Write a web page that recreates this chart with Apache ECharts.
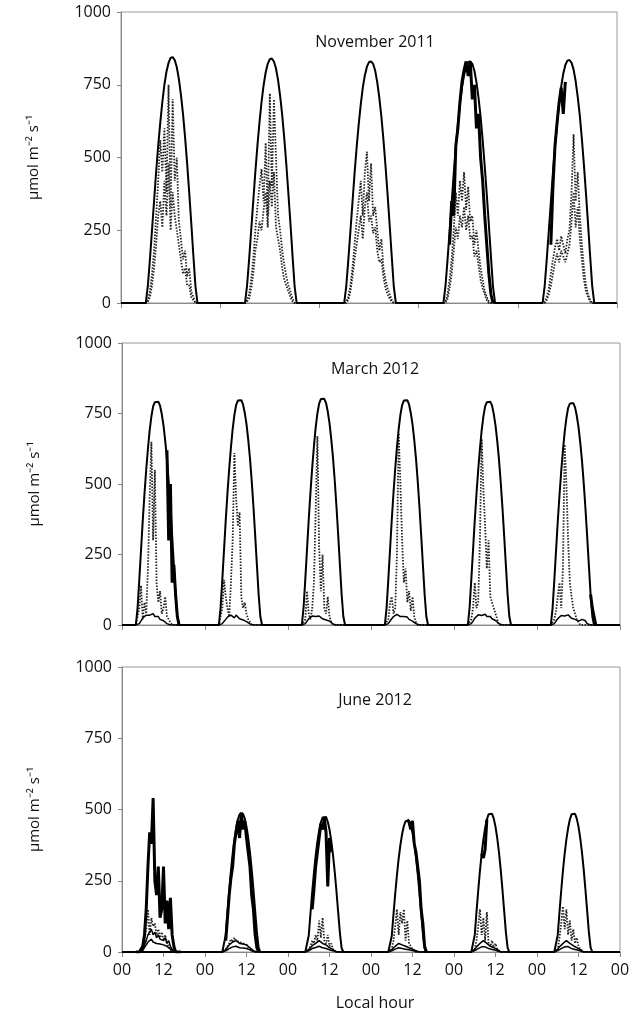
<!DOCTYPE html>
<html>
<head>
<meta charset="utf-8">
<title>PAR</title>
<script src="https://cdn.jsdelivr.net/npm/echarts@6/dist/echarts.min.js"></script>
</head>
<body style="margin:0;background:#fff">
<div id="main" style="width:639px;height:1019px;"></div>
<script type="text/javascript">
// half-hourly daytime values; night hours are zero
// November 2011: each day from 06:00, step 0.5 h
var novStart = 6;
var novClear = [
  [0,60,150,250,350,450,540,620,690,750,795,825,842,845,835,810,770,715,650,570,480,380,275,165,60,0],
  [0,60,150,250,350,450,540,620,690,748,792,822,838,840,830,806,766,712,646,566,476,376,272,162,58,0],
  [0,58,148,246,345,444,533,612,682,740,783,812,828,830,822,798,758,705,640,560,470,372,268,160,56,0],
  [0,58,148,246,345,444,533,612,682,740,783,812,828,830,822,798,758,705,640,560,470,372,268,160,56,0],
  [0,58,149,248,347,447,536,616,686,744,788,818,833,835,826,802,762,708,644,564,474,375,270,162,58,0]
];
var novThick = [
  null, null, null,
  [null,null,null,200,350,300,540,600,690,760,800,830,780,830,700,750,600,650,500,420,300,200,100,30,0,null],
  [null,null,null,null,200,400,540,620,690,740,650,760,null,null,null,null,null,null,null,null,null,null,null,null,null,null]
];
var novDot = [
  [0,10,40,100,180,300,420,560,450,600,380,750,330,700,420,500,280,220,150,180,90,120,40,20,0,0],
  [0,10,30,80,150,250,330,400,460,350,550,300,720,400,700,500,300,250,180,130,90,60,40,15,0,0],
  [0,5,20,60,120,200,280,350,420,300,450,520,350,480,300,330,250,180,220,120,80,50,30,10,0,0],
  [0,5,30,80,150,250,380,300,420,350,450,320,400,280,300,200,250,180,120,80,40,20,5,0,0,0],
  [0,5,20,50,100,150,190,220,180,230,200,170,220,250,380,580,350,450,300,200,120,60,30,10,0,0]
];
var novDot2 = [
  [0,5,20,60,120,200,300,350,260,420,300,480,250,380,300,250,200,150,100,120,60,60,20,10,0,0],
  [0,5,15,50,100,180,220,280,250,320,380,260,420,330,450,260,220,180,120,80,60,40,20,5,0,0],
  [0,0,10,40,90,150,200,250,300,220,330,380,280,300,240,260,180,140,150,90,50,30,15,5,0,0],
  [0,0,15,50,100,180,260,220,300,260,330,250,300,220,230,160,180,130,80,50,30,10,0,0,0,0],
  [0,0,10,30,60,100,140,170,140,180,160,140,170,200,280,380,260,330,220,150,80,40,20,5,0,0]
];

// March 2012: each day from 04:00, step 0.5 h
var marStart = 4;
var marClear = [
  [0,60,160,265,370,465,550,625,690,740,775,790,795,792,778,748,708,653,588,508,418,318,213,108,30,0,0],
  [0,60,160,266,372,468,554,630,695,745,780,796,800,797,782,752,712,657,592,512,421,320,215,110,30,0,0],
  [0,61,162,268,375,471,558,634,700,750,785,801,805,802,787,757,716,660,595,515,423,322,216,110,30,0,0],
  [0,60,160,266,372,468,554,630,695,745,780,796,800,797,782,752,712,657,592,512,421,320,215,110,30,0,0],
  [0,60,160,265,370,465,550,625,690,740,775,790,795,792,778,748,708,653,588,508,418,318,213,108,30,0,0],
  [0,59,158,262,366,460,545,620,684,734,770,785,790,787,772,742,702,648,584,505,415,316,212,108,30,0,0]
];
var marThick = [
  [null,null,null,null,null,null,null,null,null,null,null,null,null,null,null,null,null,null,620,300,500,150,213,108,30,0,null],
  null, null, null, null,
  [null,null,null,null,null,null,null,null,null,null,null,null,null,null,null,null,null,null,null,null,null,null,null,108,60,60,0]
];
var marLow = [
  [0,0,5,15,25,30,35,40,35,30,40,30,25,30,20,25,15,10,5,0,0,0,0,0,0,0,0],
  [0,0,5,12,20,28,30,35,30,25,35,28,22,25,18,20,12,8,4,0,0,0,0,0,0,0,0],
  [0,0,5,12,22,28,32,35,30,28,32,26,22,26,18,22,14,8,4,0,0,0,0,0,0,0,0],
  [0,0,5,14,22,30,34,38,32,30,36,30,24,28,20,24,14,10,5,0,0,0,0,0,0,0,0],
  [0,0,5,14,24,30,36,40,34,30,38,30,26,30,22,24,16,10,5,0,0,0,0,0,0,0,0],
  [0,0,5,14,22,28,34,38,32,30,36,30,24,28,20,22,14,10,20,25,15,5,0,0,0,0,0]
];
var marDot = [
  [0,0,60,140,20,80,40,200,450,650,300,550,150,80,120,40,60,100,30,20,10,0,0,0,0,0,0],
  [0,0,60,160,100,60,30,150,300,610,450,350,400,100,60,80,40,20,10,0,0,0,0,0,0,0,0],
  [0,0,20,120,40,20,60,150,400,670,280,120,250,60,40,100,30,10,0,0,0,0,0,0,0,0,0],
  [0,0,20,80,100,40,60,250,680,500,300,150,200,80,120,50,100,30,10,0,0,0,0,0,0,0,0],
  [0,0,20,60,150,60,80,300,660,480,350,200,300,100,80,60,40,20,0,0,0,0,0,0,0,0,0],
  [0,0,20,50,100,150,60,200,640,500,300,150,100,60,40,20,10,0,0,0,0,0,0,0,0,0,0]
];

// June 2012: each day from 04:00, step 0.5 h
var junStart = 4;
var junClear = [
  null,
  [0,0,0,0,60,140,215,285,345,395,435,465,483,490,485,468,440,400,350,290,220,145,70,15,0,0,0],
  [0,0,0,0,58,136,210,278,338,387,426,455,472,478,474,457,430,391,342,283,215,141,68,14,0,0,0],
  [0,0,0,0,56,132,204,270,328,376,414,442,459,465,461,445,418,380,333,276,209,138,66,14,0,0,0],
  [0,0,0,0,60,140,215,285,345,395,435,465,483,490,485,468,440,400,350,290,220,145,70,15,0,0,0],
  [0,0,0,0,60,140,215,285,345,395,435,465,483,490,485,468,440,400,350,290,220,145,70,15,0,0,0]
];
var junThick = [
  [0,0,0,0,20,60,150,300,420,380,540,250,200,300,120,150,300,100,180,80,190,60,20,0,0,0,0],
  [null,null,null,null,40,120,200,260,300,380,420,460,400,490,430,460,400,350,300,200,150,60,15,0,null,null,null],
  [null,null,null,null,null,null,150,220,300,350,400,450,430,470,420,230,400,350,null,null,null,null,null,null,null,null,null],
  [null,null,null,null,null,null,null,null,null,null,null,null,null,465,455,430,460,380,350,300,250,150,100,20,0,null,null],
  [null,null,null,null,null,null,null,null,345,330,360,465,null,null,null,null,null,null,null,null,null,null,null,null,null,null,null],
  null
];
var junLow = [
  [0,0,0,0,10,25,40,60,70,80,60,70,50,60,45,50,40,50,30,40,20,10,0,0,0,0,0],
  [0,0,0,0,8,15,25,30,35,30,40,35,30,35,28,30,25,20,15,10,5,0,0,0,0,0,0],
  [0,0,0,0,8,15,22,28,30,35,40,35,30,28,25,20,15,12,8,5,0,0,0,0,0,0,0],
  [0,0,0,0,8,15,20,25,30,28,25,22,20,18,15,12,10,8,5,0,0,0,0,0,0,0,0],
  [0,0,0,0,10,18,25,30,35,40,35,30,25,20,18,15,12,8,5,0,0,0,0,0,0,0,0],
  [0,0,0,0,10,18,25,30,35,40,38,30,25,22,18,15,12,8,5,0,0,0,0,0,0,0,0]
];
var junLow2 = [
  [0,0,0,0,5,15,25,35,40,45,35,40,30,35,28,30,25,30,20,20,10,5,0,0,0,0,0],
  [0,0,0,0,4,8,12,15,18,15,20,18,15,18,14,15,12,10,8,5,2,0,0,0,0,0,0],
  [0,0,0,0,4,8,12,15,16,18,20,18,15,14,12,10,8,6,4,2,0,0,0,0,0,0,0],
  [0,0,0,0,4,8,10,12,15,14,12,11,10,9,8,6,5,4,2,0,0,0,0,0,0,0,0],
  [0,0,0,0,5,9,12,15,18,20,18,15,12,10,9,8,6,4,2,0,0,0,0,0,0,0,0],
  [0,0,0,0,5,9,12,15,18,20,19,15,12,11,9,8,6,4,2,0,0,0,0,0,0,0,0]
];
var junDot = [
  [0,0,0,0,10,40,80,150,60,120,90,100,60,80,50,70,40,60,30,20,10,0,0,0,0,0,0],
  [0,0,0,0,10,20,30,45,35,50,40,45,35,40,30,35,25,20,10,5,0,0,0,0,0,0,0],
  [0,0,0,0,10,20,40,30,60,40,110,50,120,40,30,60,20,30,10,5,0,0,0,0,0,0,0],
  [0,0,0,0,10,40,90,150,60,140,100,150,40,110,30,20,10,5,0,0,0,0,0,0,0,0,0],
  [0,0,0,0,10,40,90,150,60,120,40,140,30,20,40,15,30,10,5,0,0,0,0,0,0,0,0],
  [0,0,0,0,10,50,100,160,80,150,60,110,40,80,30,50,20,10,5,0,0,0,0,0,0,0,0]
];

var yTicks = [0, 250, 500, 750, 1000];
var junLabels = ['00', '12'];
var titles = ['November 2011', 'March 2012', 'June 2012'];

// daytime half-hour samples, with optional zero nights
function build(days, start, step, nDays, nights) {
  var out = [];
  for (var d = 0; d < nDays; d++) {
    var arr = days[d];
    if (nights) out.push([d * 24, 0]);
    if (arr) {
      for (var i = 0; i < arr.length; i++) {
        out.push([d * 24 + start + i * step, arr[i]]);
      }
    }
    if (nights) out.push([d * 24 + 24, 0]); else out.push([d * 24 + 23.9, null]);
  }
  return out;
}

var grids = [
  {left: 121, right: 22, top: 12, height: 291},
  {left: 122, right: 19, top: 343, height: 282},
  {left: 122, right: 19, top: 667, height: 285}
];
grids.forEach(function (g) { g.show = true; g.borderColor = '#999'; g.borderWidth = 1; g.backgroundColor = 'transparent'; });

var font = {color: '#111', fontSize: 16, fontFamily: 'Open Sans'};

var xAxes = [0, 1, 2].map(function (k) {
  return {
    type: 'value', gridIndex: k, min: 0, max: k === 0 ? 120 : 144,
    interval: k === 2 ? 12 : 24,
    axisLine: {lineStyle: {color: '#888'}},
    axisTick: {show: true, length: 5, lineStyle: {color: '#888'}},
    splitLine: {show: false},
    axisLabel: {
      show: k === 2, color: '#111', fontSize: 16, fontFamily: 'Open Sans', margin: 10,
      formatter: function (v) { return junLabels[(v / 12) % 2]; }
    }
  };
});
var yAxes = [0, 1, 2].map(function (k) {
  return {
    type: 'value', gridIndex: k, min: 0, max: 1000, interval: 250,
    axisLine: {show: true, lineStyle: {color: '#888'}},
    axisTick: {show: true, length: 4, lineStyle: {color: '#888'}},
    splitLine: {show: false},
    axisLabel: {color: '#111', fontSize: 16, fontFamily: 'Open Sans', margin: 10,
      formatter: function (v) { return yTicks.indexOf(v) >= 0 ? String(v) : ''; }},
    name: 'µmol m⁻² s⁻¹', nameLocation: 'middle', nameGap: 80, nameRotate: 90,
    nameTextStyle: {color: '#111', fontSize: 15, fontFamily: 'Open Sans'}
  };
});

function line(k, data, kind) {
  var s = {type: 'line', xAxisIndex: k, yAxisIndex: k, data: data, showSymbol: false, animation: false, connectNulls: false};
  if (kind === 'clear') s.lineStyle = {color: '#000', width: 2};
  if (kind === 'thick') s.lineStyle = {color: '#000', width: 3};
  if (kind === 'low') s.lineStyle = {color: '#000', width: 1.5};
  if (kind === 'dot') s.lineStyle = {color: '#222', width: 1.8, type: [1.5, 1.5]};
  return s;
}

var series = [
  line(0, build(novDot2, novStart, 0.5, 5, true), 'dot'),
  line(0, build(novDot, novStart, 0.5, 5, true), 'dot'),
  line(0, build(novThick, novStart, 0.5, 5, false), 'thick'),
  line(0, build(novClear, novStart, 0.5, 5, true), 'clear'),
  line(1, build(marDot, marStart, 0.5, 6, true), 'dot'),
  line(1, build(marLow, marStart, 0.5, 6, true), 'low'),
  line(1, build(marThick, marStart, 0.5, 6, false), 'thick'),
  line(1, build(marClear, marStart, 0.5, 6, true), 'clear'),
  line(2, build(junDot, junStart, 0.5, 6, true), 'dot'),
  line(2, build(junLow2, junStart, 0.5, 6, true), 'low'),
  line(2, build(junLow, junStart, 0.5, 6, true), 'low'),
  line(2, build(junThick, junStart, 0.5, 6, false), 'thick'),
  line(2, build(junClear, junStart, 0.5, 6, true), 'clear')
];

function title(text, top) {
  return {text: text, left: 370, top: top, textAlign: 'center',
    textStyle: {fontSize: 16, fontWeight: 'normal', color: '#111', fontFamily: 'Open Sans'}};
}

var chart = echarts.init(document.getElementById('main'));
chart.setOption({
  backgroundColor: '#fff',
  title: [title(titles[0], 29), title(titles[1], 356), title(titles[2], 687), title('Local hour', 990)],
  grid: grids,
  xAxis: xAxes,
  yAxis: yAxes,
  series: series
});
</script>
</body>
</html>
